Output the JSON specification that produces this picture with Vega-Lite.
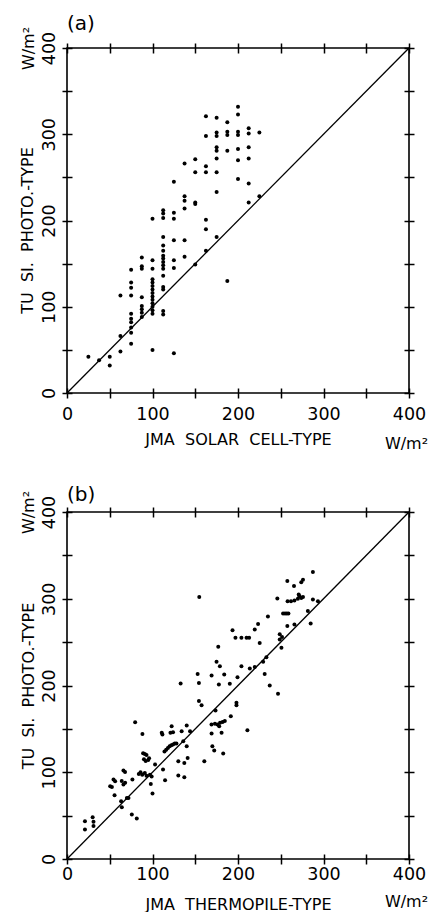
{
  "$schema": "https://vega.github.io/schema/vega-lite/v6.json",
  "padding": {"left": 18, "top": 13, "right": 0, "bottom": 0},
  "background": "white",
  "spacing": 32,
  "config": {
    "view": {"stroke": "black", "strokeWidth": 1.6},
    "axis": {"labelFont": "DejaVu Sans", "labelFontSize": 17.5, "labelColor": "black", "tickColor": "black", "tickWidth": 1.5, "domain": false, "grid": false, "titleFont": "DejaVu Sans", "titleFontSize": 16, "titleFontWeight": "normal", "titleColor": "black", "labelOverlap": false, "labelFlush": false},
    "title": {"font": "DejaVu Sans", "fontSize": 20, "fontWeight": "normal", "color": "black"}
  },
  "datasets": {
    "a": [
      {"x": 25, "y": 42}, {"x": 37.5, "y": 38}, {"x": 50, "y": 42}, {"x": 50, "y": 32},
      {"x": 62.5, "y": 113}, {"x": 62.5, "y": 66}, {"x": 62.5, "y": 48},
      {"x": 75, "y": 143}, {"x": 75, "y": 128}, {"x": 75, "y": 122}, {"x": 75, "y": 113}, {"x": 75, "y": 92}, {"x": 75, "y": 86}, {"x": 75, "y": 82}, {"x": 75, "y": 76}, {"x": 75, "y": 70}, {"x": 75, "y": 57},
      {"x": 87.5, "y": 157}, {"x": 87.5, "y": 147}, {"x": 87.5, "y": 144}, {"x": 87.5, "y": 111}, {"x": 87.5, "y": 101}, {"x": 87.5, "y": 97}, {"x": 87.5, "y": 93}, {"x": 87.5, "y": 88},
      {"x": 100, "y": 202}, {"x": 100, "y": 154}, {"x": 100, "y": 144}, {"x": 100, "y": 132}, {"x": 100, "y": 128}, {"x": 100, "y": 124}, {"x": 100, "y": 120}, {"x": 100, "y": 116}, {"x": 100, "y": 112}, {"x": 100, "y": 108}, {"x": 100, "y": 104}, {"x": 100, "y": 100}, {"x": 100, "y": 96}, {"x": 100, "y": 92}, {"x": 100, "y": 50},
      {"x": 112.5, "y": 212}, {"x": 112.5, "y": 208}, {"x": 112.5, "y": 203}, {"x": 112.5, "y": 181}, {"x": 112.5, "y": 171}, {"x": 112.5, "y": 165}, {"x": 112.5, "y": 159}, {"x": 112.5, "y": 156}, {"x": 112.5, "y": 152}, {"x": 112.5, "y": 148}, {"x": 112.5, "y": 144}, {"x": 112.5, "y": 136}, {"x": 112.5, "y": 123}, {"x": 112.5, "y": 120}, {"x": 112.5, "y": 95}, {"x": 112.5, "y": 91},
      {"x": 125, "y": 245}, {"x": 125, "y": 209}, {"x": 125, "y": 202}, {"x": 125, "y": 177}, {"x": 125, "y": 154}, {"x": 125, "y": 145}, {"x": 125, "y": 46},
      {"x": 137.5, "y": 266}, {"x": 137.5, "y": 228}, {"x": 137.5, "y": 223}, {"x": 137.5, "y": 214}, {"x": 137.5, "y": 177}, {"x": 137.5, "y": 158},
      {"x": 150, "y": 271}, {"x": 150, "y": 256}, {"x": 150, "y": 221}, {"x": 150, "y": 219}, {"x": 150, "y": 149},
      {"x": 162.5, "y": 321}, {"x": 162.5, "y": 298}, {"x": 162.5, "y": 263}, {"x": 162.5, "y": 256}, {"x": 162.5, "y": 201}, {"x": 162.5, "y": 190}, {"x": 162.5, "y": 165},
      {"x": 175, "y": 319}, {"x": 175, "y": 302}, {"x": 175, "y": 298}, {"x": 175, "y": 285}, {"x": 175, "y": 281}, {"x": 175, "y": 272}, {"x": 175, "y": 256}, {"x": 175, "y": 233}, {"x": 175, "y": 181},
      {"x": 187.5, "y": 314}, {"x": 187.5, "y": 303}, {"x": 187.5, "y": 299}, {"x": 187.5, "y": 281}, {"x": 187.5, "y": 130},
      {"x": 200, "y": 332}, {"x": 200, "y": 323}, {"x": 200, "y": 303}, {"x": 200, "y": 299}, {"x": 200, "y": 283}, {"x": 200, "y": 270}, {"x": 200, "y": 248},
      {"x": 212.5, "y": 307}, {"x": 212.5, "y": 301}, {"x": 212.5, "y": 285}, {"x": 212.5, "y": 272}, {"x": 212.5, "y": 243}, {"x": 212.5, "y": 221},
      {"x": 225, "y": 302}, {"x": 225, "y": 228}
    ],
    "b": [
      {"x": 21, "y": 43.5}, {"x": 21, "y": 34}, {"x": 30, "y": 48}, {"x": 31, "y": 43}, {"x": 31, "y": 38},
      {"x": 50.5, "y": 84}, {"x": 52.5, "y": 83}, {"x": 54.4, "y": 91.6}, {"x": 56.3, "y": 89.6}, {"x": 55.6, "y": 73.5},
      {"x": 63.3, "y": 66.6}, {"x": 64.1, "y": 59.6}, {"x": 64, "y": 90}, {"x": 66, "y": 86}, {"x": 68, "y": 88}, {"x": 66, "y": 102}, {"x": 67.9, "y": 100.4},
      {"x": 70, "y": 70.4}, {"x": 71.9, "y": 70.4}, {"x": 75.8, "y": 51.2}, {"x": 81.6, "y": 46.6},
      {"x": 76.5, "y": 91.6}, {"x": 79.7, "y": 157.7}, {"x": 88.2, "y": 144.2},
      {"x": 89, "y": 122}, {"x": 91, "y": 121}, {"x": 93, "y": 120}, {"x": 90, "y": 115}, {"x": 92, "y": 113}, {"x": 95, "y": 114}, {"x": 96, "y": 116},
      {"x": 84, "y": 98}, {"x": 86, "y": 100}, {"x": 88, "y": 97}, {"x": 91, "y": 99}, {"x": 93, "y": 96}, {"x": 97, "y": 97}, {"x": 99, "y": 95}, {"x": 98, "y": 86.5}, {"x": 100, "y": 75.4},
      {"x": 103, "y": 108.9}, {"x": 112.3, "y": 103.1}, {"x": 114.7, "y": 90.8},
      {"x": 110.8, "y": 145.4}, {"x": 111.6, "y": 143.5}, {"x": 122.4, "y": 153}, {"x": 121, "y": 145.4}, {"x": 124, "y": 146},
      {"x": 114, "y": 124}, {"x": 116, "y": 126}, {"x": 118, "y": 128}, {"x": 120, "y": 130}, {"x": 122, "y": 131}, {"x": 124, "y": 132}, {"x": 126, "y": 133}, {"x": 128, "y": 133},
      {"x": 134.1, "y": 147.3}, {"x": 140, "y": 153.9}, {"x": 143.9, "y": 147.3}, {"x": 136, "y": 135.8}, {"x": 140, "y": 130},
      {"x": 130.2, "y": 112.7}, {"x": 137.2, "y": 110.8}, {"x": 141.1, "y": 116.5}, {"x": 130.2, "y": 96.2}, {"x": 137.2, "y": 94.3},
      {"x": 132.9, "y": 202.3}, {"x": 152.8, "y": 213.4}, {"x": 154.3, "y": 203}, {"x": 154.3, "y": 182}, {"x": 157.4, "y": 177.3},
      {"x": 154.7, "y": 301.9}, {"x": 160.6, "y": 112.7},
      {"x": 169.1, "y": 211.6}, {"x": 174.9, "y": 227.3}, {"x": 178.8, "y": 222.3}, {"x": 177.6, "y": 201.2}, {"x": 173.7, "y": 171.2},
      {"x": 169, "y": 155}, {"x": 173, "y": 156}, {"x": 176, "y": 155}, {"x": 179, "y": 157}, {"x": 182, "y": 158}, {"x": 184.6, "y": 159}, {"x": 178, "y": 153},
      {"x": 169.1, "y": 144.7}, {"x": 180.8, "y": 145.4}, {"x": 170, "y": 130}, {"x": 172.2, "y": 125}, {"x": 182.7, "y": 121.6},
      {"x": 176.9, "y": 244.6}, {"x": 183.9, "y": 212.7}, {"x": 190.4, "y": 201.9}, {"x": 191.6, "y": 164.6},
      {"x": 193.6, "y": 263.8}, {"x": 197, "y": 255}, {"x": 204, "y": 255}, {"x": 210, "y": 255}, {"x": 213, "y": 255}, {"x": 219.6, "y": 264.6}, {"x": 225.4, "y": 249},
      {"x": 198.2, "y": 180}, {"x": 198.2, "y": 177.3}, {"x": 199.4, "y": 209.6}, {"x": 204, "y": 222.3}, {"x": 211, "y": 148.5},
      {"x": 213.8, "y": 219.7}, {"x": 219.6, "y": 221.2}, {"x": 229.4, "y": 227.3}, {"x": 233.2, "y": 232.7}, {"x": 231.2, "y": 213.4}, {"x": 237.1, "y": 200}, {"x": 246.8, "y": 190.4},
      {"x": 223.5, "y": 271}, {"x": 235, "y": 279.6}, {"x": 246, "y": 300.4},
      {"x": 248.8, "y": 259}, {"x": 251.5, "y": 256}, {"x": 248.8, "y": 253}, {"x": 250.8, "y": 243.4},
      {"x": 252.7, "y": 283}, {"x": 255, "y": 283}, {"x": 257, "y": 283}, {"x": 259, "y": 283},
      {"x": 257.7, "y": 268.5}, {"x": 266, "y": 270.4}, {"x": 285, "y": 271.5}, {"x": 281.7, "y": 285.8},
      {"x": 257.7, "y": 320.4}, {"x": 265.5, "y": 314.6}, {"x": 276, "y": 322}, {"x": 274, "y": 319}, {"x": 287.6, "y": 330.7},
      {"x": 258, "y": 297}, {"x": 262, "y": 297}, {"x": 266, "y": 298}, {"x": 270, "y": 300}, {"x": 272, "y": 303}, {"x": 274, "y": 301}, {"x": 276, "y": 302}, {"x": 271, "y": 305}, {"x": 287.6, "y": 299}, {"x": 293.5, "y": 297}
    ],
    "diag": [{"x": 0, "y": 0, "x2": 400, "y2": 400}]
  },
  "vconcat": [
    {
      "title": {"text": "(a)", "anchor": "start", "frame": "group", "offset": -8},
      "width": 342,
      "height": 345,
      "layer": [
        {
          "data": {"name": "a"},
          "mark": {"type": "circle", "size": 16, "color": "black", "opacity": 1},
          "encoding": {
            "x": {"field": "x", "type": "quantitative", "scale": {"domain": [0, 400], "nice": false},
              "axis": {"orient": "bottom", "values": [0, 50, 100, 150, 200, 250, 300, 350, 400], "offset": -5, "tickSize": 10, "labelPadding": 7,
                "labelExpr": "datum.value % 100 == 0 ? datum.label : ''",
                "title": "JMA\u00a0\u00a0SOLAR\u00a0\u00a0CELL-TYPE", "titleY": 56, "titleBaseline": "alphabetic"}},
            "y": {"field": "y", "type": "quantitative", "scale": {"domain": [0, 400], "nice": false},
              "axis": {"orient": "left", "values": [0, 50, 100, 150, 200, 250, 300, 350, 400], "offset": -5, "tickSize": 10, "labelAngle": 270, "labelAlign": "center", "labelBaseline": "bottom", "labelPadding": 4,
                "labelExpr": "datum.value % 100 == 0 ? datum.label : ''",
                "title": "TU\u00a0\u00a0SI.\u00a0\u00a0PHOTO.-TYPE", "titleAngle": 270, "titleX": -40, "titleY": 182, "titleAlign": "center", "titleBaseline": "alphabetic"}}
          }
        },
        {
          "data": {"name": "diag"},
          "mark": {"type": "rule", "color": "black", "strokeWidth": 1.3},
          "encoding": {
            "x": {"field": "x", "type": "quantitative", "scale": {"domain": [0, 400], "nice": false},
              "axis": {"orient": "top", "values": [0, 50, 100, 150, 200, 250, 300, 350, 400], "offset": -5, "tickSize": 10, "labels": false, "title": null}},
            "y": {"field": "y", "type": "quantitative", "scale": {"domain": [0, 400], "nice": false},
              "axis": {"orient": "right", "values": [0, 50, 100, 150, 200, 250, 300, 350, 400], "offset": -5, "tickSize": 10, "labels": false, "title": null}},
            "x2": {"field": "x2"},
            "y2": {"field": "y2"}
          }
        },
        {
          "data": {"name": "diag"},
          "mark": {"type": "rule", "strokeOpacity": 0},
          "encoding": {
            "x": {"field": "x", "type": "quantitative", "scale": {"domain": [0, 400], "nice": false},
              "axis": {"orient": "bottom", "values": [400], "offset": -5, "ticks": false, "tickSize": 0, "labelPadding": 60, "labelOffset": -3, "labelBaseline": "alphabetic", "labelFontSize": 16, "labelExpr": "'W/m²'", "title": null}},
            "y": {"field": "y", "type": "quantitative", "scale": {"domain": [0, 400], "nice": false},
              "axis": {"orient": "left", "values": [400], "offset": -5, "ticks": false, "tickSize": 0, "labelPadding": 39, "labelAngle": 270, "labelAlign": "center", "labelBaseline": "alphabetic", "labelFontSize": 16, "labelExpr": "'W/m²'", "title": null}},
            "x2": {"field": "x2"},
            "y2": {"field": "y2"}
          }
        }
      ],
      "resolve": {"axis": {"x": "independent", "y": "independent"}}
    },
    {
      "title": {"text": "(b)", "anchor": "start", "frame": "group", "offset": -15},
      "width": 342,
      "height": 347,
      "layer": [
        {
          "data": {"name": "b"},
          "mark": {"type": "circle", "size": 16, "color": "black", "opacity": 1},
          "encoding": {
            "x": {"field": "x", "type": "quantitative", "scale": {"domain": [0, 400], "nice": false},
              "axis": {"orient": "bottom", "values": [0, 50, 100, 150, 200, 250, 300, 350, 400], "offset": -5, "tickSize": 10, "labelPadding": 1,
                "labelExpr": "datum.value % 100 == 0 ? datum.label : ''",
                "title": "JMA\u00a0\u00a0THERMOPILE-TYPE", "titleY": 55, "titleBaseline": "alphabetic"}},
            "y": {"field": "y", "type": "quantitative", "scale": {"domain": [0, 400], "nice": false},
              "axis": {"orient": "left", "values": [0, 50, 100, 150, 200, 250, 300, 350, 400], "offset": -5, "tickSize": 10, "labelAngle": 270, "labelAlign": "center", "labelBaseline": "bottom", "labelPadding": 4,
                "labelExpr": "datum.value % 100 == 0 ? datum.label : ''",
                "title": "TU\u00a0\u00a0SI.\u00a0\u00a0PHOTO.-TYPE", "titleAngle": 270, "titleX": -39, "titleAlign": "center", "titleBaseline": "alphabetic"}}
          }
        },
        {
          "data": {"name": "diag"},
          "mark": {"type": "rule", "color": "black", "strokeWidth": 1.3},
          "encoding": {
            "x": {"field": "x", "type": "quantitative", "scale": {"domain": [0, 400], "nice": false},
              "axis": {"orient": "top", "values": [0, 50, 100, 150, 200, 250, 300, 350, 400], "offset": -5, "tickSize": 10, "labels": false, "title": null}},
            "y": {"field": "y", "type": "quantitative", "scale": {"domain": [0, 400], "nice": false},
              "axis": {"orient": "right", "values": [0, 50, 100, 150, 200, 250, 300, 350, 400], "offset": -5, "tickSize": 10, "labels": false, "title": null}},
            "x2": {"field": "x2"},
            "y2": {"field": "y2"}
          }
        },
        {
          "data": {"name": "diag"},
          "mark": {"type": "rule", "strokeOpacity": 0},
          "encoding": {
            "x": {"field": "x", "type": "quantitative", "scale": {"domain": [0, 400], "nice": false},
              "axis": {"orient": "bottom", "values": [400], "offset": -5, "ticks": false, "tickSize": 0, "labelPadding": 52, "labelOffset": -3, "labelBaseline": "alphabetic", "labelFontSize": 16, "labelExpr": "'W/m²'", "title": null}},
            "y": {"field": "y", "type": "quantitative", "scale": {"domain": [0, 400], "nice": false},
              "axis": {"orient": "left", "values": [400], "offset": -5, "ticks": false, "tickSize": 0, "labelPadding": 39, "labelAngle": 270, "labelAlign": "center", "labelBaseline": "alphabetic", "labelFontSize": 16, "labelExpr": "'W/m²'", "title": null}},
            "x2": {"field": "x2"},
            "y2": {"field": "y2"}
          }
        }
      ],
      "resolve": {"axis": {"x": "independent", "y": "independent"}}
    }
  ]
}
